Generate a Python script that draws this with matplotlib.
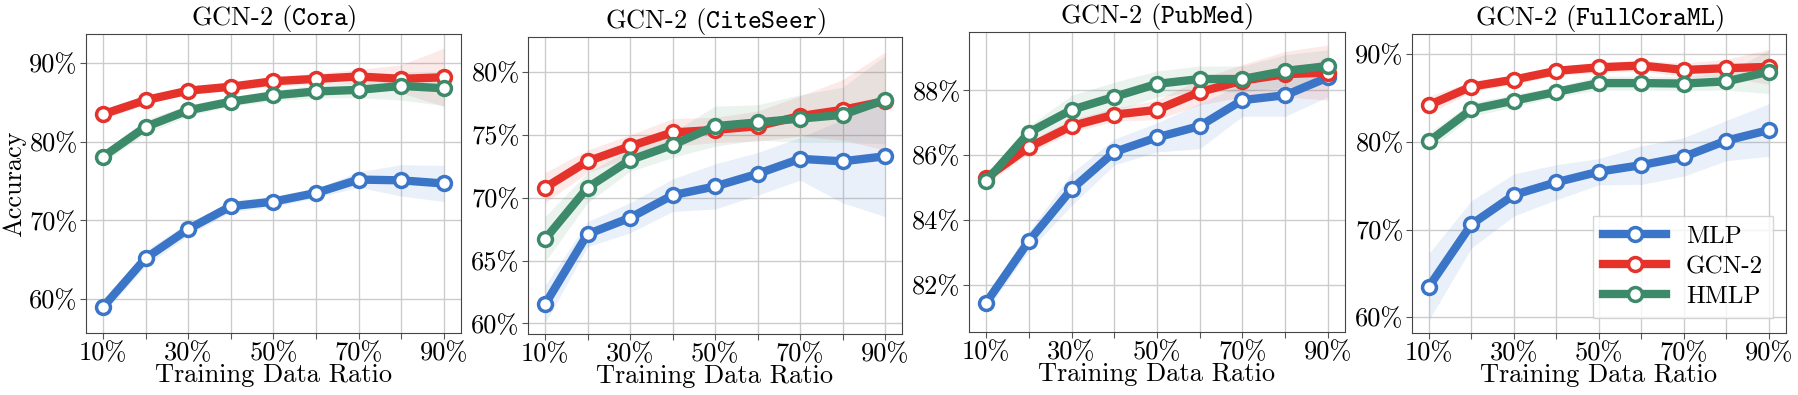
import matplotlib

matplotlib.use("Agg")
import matplotlib.pyplot as plt
import numpy as np
from matplotlib.ticker import FuncFormatter, MultipleLocator

plt.rcParams["font.family"] = "serif"
plt.rcParams["font.serif"] = ["cmr10", "DejaVu Serif"]
plt.rcParams["mathtext.fontset"] = "cm"
plt.rcParams["axes.unicode_minus"] = False

ratios = [10, 20, 30, 40, 50, 60, 70, 80, 90]
datasets = ["Cora", "CiteSeer", "PubMed", "FullCoraML"]
methods = ["MLP", "GCN-2", "HMLP"]

# mean accuracy (%) per dataset, per method
cora_mlp = [59.0, 65.2, 68.9, 71.8, 72.4, 73.5, 75.2, 75.1, 74.7]
cora_gcn = [83.5, 85.3, 86.5, 87.0, 87.7, 88.0, 88.3, 88.0, 88.2]
cora_hmlp = [78.1, 81.9, 84.0, 85.1, 85.9, 86.4, 86.6, 87.1, 86.8]
cora_mlp_sd = [0.8, 1.0, 0.8, 0.7, 0.7, 0.6, 1.0, 2.0, 2.3]
cora_gcn_sd = [0.6, 0.5, 0.4, 0.5, 0.6, 0.7, 0.9, 1.8, 3.7]
cora_hmlp_sd = [0.7, 0.9, 0.7, 0.6, 0.7, 0.8, 1.0, 1.8, 2.2]

cite_mlp = [61.5, 67.1, 68.4, 70.2, 70.9, 71.9, 73.1, 72.9, 73.3]
cite_gcn = [70.8, 72.9, 74.1, 75.2, 75.4, 75.7, 76.5, 77.0, 77.7]
cite_hmlp = [66.7, 70.8, 73.0, 74.2, 75.7, 76.0, 76.3, 76.6, 77.8]
cite_mlp_sd = [1.5, 1.0, 1.2, 1.3, 1.8, 1.7, 1.7, 3.3, 4.8]
cite_gcn_sd = [1.2, 0.9, 0.9, 1.1, 1.0, 1.2, 1.6, 2.4, 3.9]
cite_hmlp_sd = [1.8, 1.2, 0.9, 1.0, 1.6, 1.4, 1.9, 2.2, 3.5]

pub_mlp = [81.45, 83.35, 84.95, 86.1, 86.55, 86.9, 87.7, 87.85, 88.4]
pub_gcn = [85.3, 86.25, 86.9, 87.25, 87.4, 87.95, 88.3, 88.5, 88.55]
pub_hmlp = [85.2, 86.7, 87.4, 87.8, 88.2, 88.35, 88.35, 88.6, 88.75]
pub_mlp_sd = [0.25, 0.3, 0.5, 0.4, 0.45, 0.7, 0.5, 0.65, 0.6]
pub_gcn_sd = [0.2, 0.2, 0.2, 0.2, 0.3, 0.4, 0.5, 0.7, 0.85]
pub_hmlp_sd = [0.15, 0.2, 0.45, 0.45, 0.4, 0.4, 0.4, 0.5, 0.5]

fcml_mlp = [63.5, 70.6, 73.95, 75.4, 76.6, 77.35, 78.3, 80.15, 81.35]
fcml_gcn = [84.2, 86.3, 87.1, 88.1, 88.5, 88.7, 88.2, 88.4, 88.55]
fcml_hmlp = [80.05, 83.7, 84.7, 85.7, 86.7, 86.7, 86.65, 86.9, 88.0]
fcml_mlp_sd = [3.8, 2.7, 2.4, 2.0, 1.5, 2.2, 2.2, 2.3, 3.0]
fcml_gcn_sd = [1.0, 0.6, 0.5, 0.5, 0.6, 0.6, 0.8, 1.0, 2.0]
fcml_hmlp_sd = [1.0, 0.8, 0.7, 0.6, 0.8, 0.8, 0.8, 1.0, 2.5]

means = {
    "Cora": [cora_mlp, cora_gcn, cora_hmlp],
    "CiteSeer": [cite_mlp, cite_gcn, cite_hmlp],
    "PubMed": [pub_mlp, pub_gcn, pub_hmlp],
    "FullCoraML": [fcml_mlp, fcml_gcn, fcml_hmlp],
}
stds = {
    "Cora": [cora_mlp_sd, cora_gcn_sd, cora_hmlp_sd],
    "CiteSeer": [cite_mlp_sd, cite_gcn_sd, cite_hmlp_sd],
    "PubMed": [pub_mlp_sd, pub_gcn_sd, pub_hmlp_sd],
    "FullCoraML": [fcml_mlp_sd, fcml_gcn_sd, fcml_hmlp_sd],
}

colors = ["#3a75c8", "#e5322a", "#3d8a6b"]

# axes boxes in pixels: left, top, right, bottom (figure 1799x395)
W, H = 1799, 395
boxes = [(86, 34, 461, 333), (528, 37, 902, 334), (969, 32, 1345, 332), (1412, 34, 1786, 333)]
ylims = [(55.7, 93.7), (59.15, 82.8), (80.55, 89.8), (58.2, 92.3)]
ysteps = [10, 5, 2, 10]

fig = plt.figure(figsize=(W / 100, H / 100), dpi=100)

for i, name in enumerate(datasets):
    l, t, r, b = boxes[i]
    ax = fig.add_axes([l / W, 1 - b / H, (r - l) / W, (b - t) / H])
    x = np.array(ratios)
    for m, meth in enumerate(methods):
        mu = np.array(means[name][m])
        sd = np.array(stds[name][m])
        ax.fill_between(x, mu - sd, mu + sd, color=colors[m], alpha=0.1, lw=0)
        ax.plot(x, mu, color=colors[m], lw=6, marker="o", ms=10,
                mfc="white", mec=colors[m], mew=2.5, label=meth, zorder=3)
    ax.set_xlim(6, 94)
    ax.set_ylim(*ylims[i])
    ax.set_xticks(ratios)
    ax.set_xticklabels([f"{v}%" if v % 20 == 10 else "" for v in ratios])
    ax.yaxis.set_major_locator(MultipleLocator(ysteps[i]))
    ax.yaxis.set_major_formatter(FuncFormatter(lambda v, p: f"{v:.0f}%"))
    ax.tick_params(labelsize=19, length=4, color="#555555", pad=2)
    ax.grid(True, color="#cccccc", lw=1)
    ax.set_axisbelow(True)
    for s in ax.spines.values():
        s.set_color("#444444")
    ax.set_title("GCN-2 (" + r"$\mathtt{" + name + "}$" + ")", fontsize=19, pad=4)
    ax.set_xlabel("Training Data Ratio", fontsize=19, labelpad=-1)
    if i == 0:
        ax.set_ylabel("Accuracy", fontsize=19, labelpad=2)
    if i == 3:
        ax.legend(loc="lower right", fontsize=18, handlelength=2.5,
                  borderpad=0.4, labelspacing=0.3, fancybox=False,
                  borderaxespad=0, bbox_to_anchor=(0.965, 0.05))

fig.savefig("out.png", dpi=100)
